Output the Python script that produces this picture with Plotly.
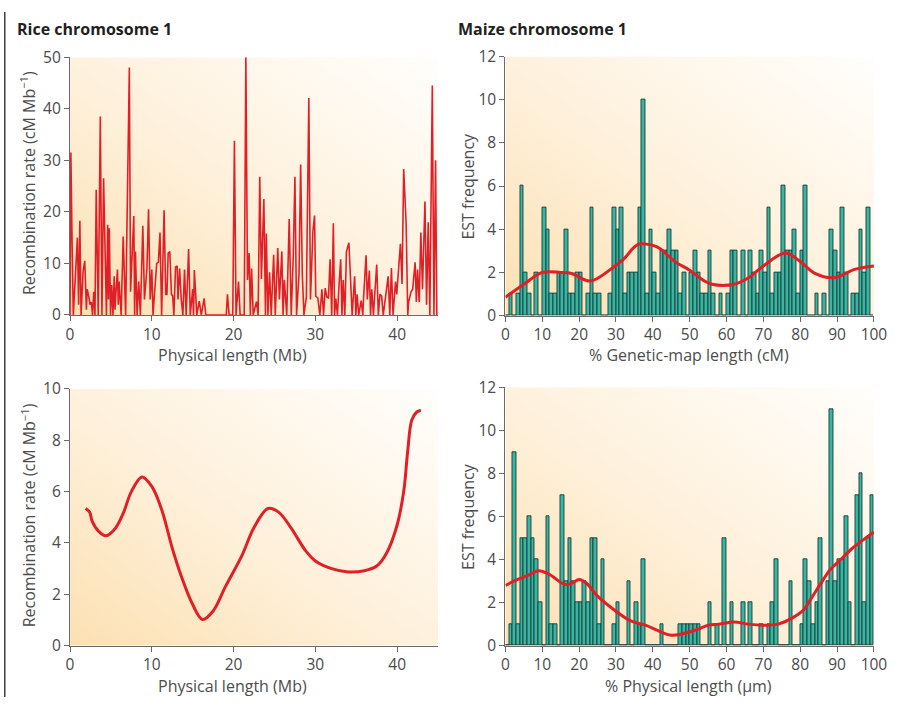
import base64
import plotly.graph_objects as go

# ---------------- DATA ----------------
# Rice chromosome 1: recombination rate along physical map (Mb, cM/Mb)
rice_pos_mb = [0, 0.1, 0.25, 0.4, 0.9, 1.05, 1.2, 1.35, 1.6, 1.8, 2.0, 2.1, 2.3, 2.45, 2.6, 2.75,
               2.9, 3.05, 3.2, 3.45, 3.7, 3.9, 4.1, 4.3, 4.45, 4.6, 4.7, 4.8, 4.95, 5.1, 5.25, 5.4,
               5.5, 5.6, 5.8, 5.9, 6.0, 6.25, 6.5, 6.8, 7.25, 7.4, 7.6, 7.8, 7.9, 8.0, 8.2, 8.4,
               8.6, 8.9, 9.1, 9.4, 9.6, 9.8, 10.0, 10.15, 10.3, 10.6, 10.8, 11.0, 11.2, 11.5, 11.7,
               11.85, 12.0, 12.2, 12.4, 12.55, 12.7, 12.9, 13.1, 13.2, 13.4, 13.6, 13.8, 14.0, 14.2,
               14.5, 14.7, 15.0, 15.1, 15.2, 15.5, 15.8, 16.05, 16.4, 16.6, 19.1, 19.25, 19.45,
               19.9, 20.1, 20.3, 20.6, 20.8, 21.3, 21.5, 21.7, 21.9, 22.05, 22.2, 22.4, 22.8, 23.0,
               23.2, 23.4, 23.7, 23.9, 24.0, 24.2, 24.4, 24.6, 24.9, 25.1, 25.4, 25.6, 25.9, 26.05,
               26.2, 26.5, 26.8, 27.05, 27.3, 27.5, 27.7, 28.0, 28.2, 28.4, 28.6, 28.9, 29.2, 29.4,
               29.7, 29.9, 30.05, 30.3, 30.55, 30.8, 31.0, 31.2, 31.4, 31.6, 31.8, 32.0, 32.2,
               32.35, 32.5, 32.7, 32.9, 33.1, 33.25, 33.4, 33.6, 33.8, 34.1, 34.3, 34.5, 34.8,
               34.95, 35.1, 35.3, 35.6, 35.8, 35.9, 36.2, 36.35, 36.6, 36.75, 36.9, 37.1, 37.5,
               37.7, 37.9, 38.1, 38.3, 38.9, 39.1, 39.3, 39.5, 39.8, 39.95, 40.4, 40.6, 40.8, 41.1,
               41.3, 41.4, 41.7, 41.9, 42.2, 42.35, 42.5, 42.7, 42.9, 43.1, 43.4, 43.6, 43.8, 44.0,
               44.3, 44.5, 44.7, 44.85]
rice_rate = [0, 31.5, 14, 0, 15, 2, 18.3, 0, 8.5, 10.5, 1, 5, 3.5, 2, 2.5, 0,
             4.5, 0, 24.3, 0, 38.5, 0, 26.5, 11.5, 0, 17.5, 3, 16.8, 0, 5.8, 0, 7.5,
             1, 4, 8.8, 2, 6.5, 0, 15.2, 0, 48, 4.5, 11.5, 19.2, 0, 12.3, 0, 6.5,
             0, 17.3, 3, 9, 20.5, 3, 8.8, 0, 3.5, 10, 10.2, 16, 0, 20.3, 4,
             4, 12, 12.3, 4, 3.7, 0, 9.3, 9.5, 3, 9, 3, 0, 8.8, 0,
             12.8, 0, 5, 0, 8.7, 0, 2.7, 0, 3.2, 0, 0, 4, 0,
             0, 33.8, 0, 6.5, 0, 0, 50, 6.8, 12, 0, 9, 0, 2.6, 0,
             26.8, 7, 22.5, 0, 15.8, 0, 8.3, 0, 11.7, 0, 13, 3, 12.3, 0,
             6.8, 0, 18.6, 0, 11.7, 26.8, 0, 8, 29.2, 8, 0, 3.5, 42.1, 3,
             16.3, 19.3, 3.6, 3.3, 0, 5, 0, 5.2, 3.5, 3.3, 10.8, 0, 17.8,
             0, 3.2, 0, 6, 10.8, 0, 6.8, 0, 12.3, 14, 5, 0, 7.5,
             0, 4, 0, 2.8, 0, 3.5, 11.6, 3, 8.6, 0, 5, 0, 9.8,
             0, 4, 3.7, 0, 7.5, 0, 9.1, 0, 6.5, 4, 13.8, 6, 28.3, 17.8,
             0, 2.5, 4.5, 5, 10.2, 2.5, 8.8, 2.5, 16, 5, 22, 2, 18, 0,
             44.5, 0, 30, 0]

# Rice chromosome 1: smoothed recombination rate
rice_smooth_mb = [1.9, 2.4, 2.7, 3.5, 4.4, 5.5, 6.5, 7.5, 8.8, 10.0, 11.2, 12.5, 13.5, 15.0, 16.2,
                  17.5, 19.0, 21.0, 22.5, 24.2, 25.5, 27.0, 28.8, 30.0, 32.0, 34.0, 36.0, 37.5,
                  38.7, 40.0, 40.8, 41.3, 41.8, 42.4, 42.9]
rice_smooth_rate = [5.34, 5.2, 4.85, 4.45, 4.28, 4.55, 5.15, 6.0, 6.57, 6.2, 5.3, 3.8, 2.8, 1.6, 1.02,
                    1.35, 2.3, 3.5, 4.6, 5.34, 5.2, 4.6, 3.7, 3.3, 3.0, 2.87, 2.92, 3.1,
                    3.6, 4.7, 6.0, 7.6, 8.8, 9.1, 9.17]

# Maize chromosome 1: EST frequency per 1% bin
bin_start_pct = list(range(0, 100))
est_genetic = [0, 1, 0, 1, 6, 2, 1, 0, 2, 0,
               5, 4, 1, 1, 2, 2, 4, 1, 1, 2,
               2, 0, 1, 5, 1, 1, 0, 0, 1, 5,
               4, 5, 1, 2, 2, 2, 5, 10, 1, 4,
               2, 1, 3, 3, 4, 3, 3, 1, 2, 0,
               2, 3, 2, 1, 1, 3, 1, 0, 1, 0,
               1, 3, 3, 0, 3, 0, 3, 2, 1, 3,
               2, 5, 1, 2, 2, 6, 3, 3, 4, 1,
               3, 6, 0, 0, 1, 0, 1, 0, 4, 3,
               2, 5, 2, 0, 1, 1, 4, 2, 5, 0]
est_physical = [0, 1, 9, 1, 5, 5, 6, 5, 4, 2,
                0, 6, 1, 1, 0, 7, 3, 5, 3, 2,
                2, 3, 2, 5, 5, 1, 4, 0, 0, 1,
                2, 0, 0, 3, 0, 2, 1, 4, 0, 0,
                0, 0, 1, 0, 0, 0, 0, 1, 1, 1,
                1, 1, 1, 0, 0, 2, 0, 1, 0, 5,
                0, 2, 0, 0, 2, 0, 2, 0, 0, 1,
                0, 1, 2, 4, 0, 0, 0, 3, 0, 0,
                1, 4, 3, 1, 2, 5, 0, 3, 11, 3,
                4, 4, 6, 2, 0, 7, 8, 2, 5, 7]

# Smoothed EST density curves
genetic_smooth_pct = [0, 5, 10, 15, 18, 23, 29, 32, 36, 40, 42, 46, 50, 54, 56, 62, 66, 70, 76,
                      80, 84, 89, 95, 100]
genetic_smooth_val = [0.85, 1.45, 2.0, 2.0, 1.95, 1.6, 2.2, 2.6, 3.3, 3.25, 3.1, 2.5, 2.1, 1.6,
                      1.45, 1.45, 1.75, 2.3, 2.9, 2.5, 1.95, 1.75, 2.15, 2.3]
physical_smooth_pct = [0, 3, 6, 9, 12, 16, 18, 20, 22, 25, 30, 34, 38, 42, 45, 48, 52, 55, 58,
                       62, 66, 70, 74, 78, 81, 83, 86, 88, 91, 94, 97, 100]
physical_smooth_val = [2.8, 3.05, 3.25, 3.48, 3.3, 2.85, 2.9, 3.07, 2.9, 2.3, 1.6, 1.15, 0.95,
                       0.65, 0.48, 0.55, 0.75, 0.95, 1.0, 1.1, 1.0, 0.95, 1.0, 1.3, 1.68, 2.2,
                       3.0, 3.5, 4.0, 4.5, 4.9, 5.28]

# ---------------- STYLE ----------------
W, H = 909, 707
FONT = "Open Sans"
RED = "#E11F26"
TEAL = "#36B6A3"
TEAL_EDGE = "#1D3A35"
TICK_COL = "#4a4a4a"
AXIS_COL = "#6a6a6a"


def px_x(p):
    return p / W


def px_y(p):
    return 1 - p / H


svg = ("<svg xmlns='http://www.w3.org/2000/svg' width='200' height='200' viewBox='0 0 200 200' "
       "preserveAspectRatio='none'><defs><linearGradient id='g' x1='0' y1='1' x2='1' y2='0'>"
       "<stop offset='0' stop-color='#FCE0B2'/><stop offset='0.45' stop-color='#FEF0DA'/>"
       "<stop offset='1' stop-color='#FFFEFC'/></linearGradient></defs>"
       "<rect width='200' height='200' fill='url(#g)'/></svg>")
bg_uri = "data:image/svg+xml;base64," + base64.b64encode(svg.encode()).decode()

fig = go.Figure()

# Panel A: rice spikes
fig.add_trace(go.Scatter(x=rice_pos_mb, y=rice_rate, mode="lines",
                         line=dict(color=RED, width=1.6), xaxis="x", yaxis="y",
                         hoverinfo="skip", showlegend=False))
# Panel B: maize genetic map
fig.add_trace(go.Bar(x=bin_start_pct, y=est_genetic, width=1, offset=0,
                     marker=dict(color=TEAL, line=dict(color=TEAL_EDGE, width=0.9)),
                     xaxis="x2", yaxis="y2", showlegend=False))
fig.add_trace(go.Scatter(x=genetic_smooth_pct, y=genetic_smooth_val, mode="lines",
                         line=dict(color=RED, width=3, shape="spline", smoothing=1.0),
                         xaxis="x2", yaxis="y2", showlegend=False))
# Panel C: rice smooth
fig.add_trace(go.Scatter(x=rice_smooth_mb, y=rice_smooth_rate, mode="lines",
                         line=dict(color=RED, width=3, shape="spline", smoothing=1.0),
                         xaxis="x3", yaxis="y3", showlegend=False))
# Panel D: maize physical map
fig.add_trace(go.Bar(x=bin_start_pct, y=est_physical, width=1, offset=0,
                     marker=dict(color=TEAL, line=dict(color=TEAL_EDGE, width=0.9)),
                     xaxis="x4", yaxis="y4", showlegend=False))
fig.add_trace(go.Scatter(x=physical_smooth_pct, y=physical_smooth_val, mode="lines",
                         line=dict(color=RED, width=3, shape="spline", smoothing=1.0),
                         xaxis="x4", yaxis="y4", showlegend=False))


def axis(domain, rng, dtick, anchor):
    return dict(domain=domain, range=rng, dtick=dtick, tick0=0, anchor=anchor,
                showgrid=False, zeroline=False, showline=True, linecolor=AXIS_COL,
                linewidth=1.3, ticks="outside", ticklen=5, tickwidth=1.3,
                tickcolor=AXIS_COL, tickfont=dict(family=FONT, size=15.5, color=TICK_COL),
                fixedrange=True)


panels = {
    "": dict(xd=[67.3, 442.3], yd=[46.7, 312.7], xr=[0, 45], yr=[0, 50], xt=10, yt=10),
    "2": dict(xd=[511, 886.5], yd=[46, 313.3], xr=[0, 100], yr=[0, 12], xt=10, yt=2),
    "3": dict(xd=[67.3, 442.3], yd=[389, 654], xr=[0, 45], yr=[0, 10], xt=10, yt=2),
    "4": dict(xd=[511, 886.5], yd=[387.3, 654], xr=[0, 100], yr=[0, 12], xt=10, yt=2),
}

layout_axes = {}
images = []
for k, p in panels.items():
    xd = [px_x(p["xd"][0]), px_x(p["xd"][1])]
    yd = [px_y(p["yd"][1]), px_y(p["yd"][0])]
    layout_axes["xaxis" + k] = axis(xd, p["xr"], p["xt"], "y" + k)
    layout_axes["yaxis" + k] = axis(yd, p["yr"], p["yt"], "x" + k)
    images.append(dict(source=bg_uri, xref=("x" + k) + " domain", yref=("y" + k) + " domain",
                       x=0, y=1, sizex=1, sizey=1, sizing="stretch", xanchor="left",
                       yanchor="top", layer="below"))

TITLE_COL = "#231f20"
LABEL_COL = "#4d4d4d"
annotations = [
    dict(text="<b>Rice chromosome 1</b>", x=px_x(11), y=px_y(18), xanchor="left",
         yanchor="middle", font=dict(family=FONT, size=16, color=TITLE_COL)),
    dict(text="<b>Maize chromosome 1</b>", x=px_x(461), y=px_y(18), xanchor="left",
         yanchor="middle", font=dict(family=FONT, size=16, color=TITLE_COL)),
    dict(text="Recombination rate (cM Mb<sup>−1</sup>)", x=px_x(25), y=px_y(177),
         textangle=-90, font=dict(family=FONT, size=16, color=LABEL_COL)),
    dict(text="Recombination rate (cM Mb<sup>−1</sup>)", x=px_x(25), y=px_y(520),
         textangle=-90, font=dict(family=FONT, size=16, color=LABEL_COL)),
    dict(text="EST frequency", x=px_x(473), y=px_y(180), textangle=-90,
         font=dict(family=FONT, size=16, color=LABEL_COL)),
    dict(text="EST frequency", x=px_x(473), y=px_y(521), textangle=-90,
         font=dict(family=FONT, size=16, color=LABEL_COL)),
    dict(text="Physical length (Mb)", x=px_x(233), y=px_y(354),
         font=dict(family=FONT, size=16, color=LABEL_COL)),
    dict(text="Physical length (Mb)", x=px_x(233), y=px_y(695.5),
         font=dict(family=FONT, size=16, color=LABEL_COL)),
    dict(text="% Genetic-map length (cM)", x=px_x(698), y=px_y(354),
         font=dict(family=FONT, size=16, color=LABEL_COL)),
    dict(text="% Physical length (μm)", x=px_x(698), y=px_y(695.5),
         font=dict(family=FONT, size=16, color=LABEL_COL)),
]
for a in annotations:
    a.update(xref="paper", yref="paper", showarrow=False)
    a.setdefault("xanchor", "center")
    a.setdefault("yanchor", "middle")

fig.update_layout(
    autosize=True,
    margin=dict(l=0, r=0, t=0, b=0, pad=0),
    paper_bgcolor="white",
    plot_bgcolor="rgba(0,0,0,0)",
    bargap=0,
    showlegend=False,
    images=images,
    annotations=annotations,
    shapes=[dict(type="line", xref="paper", yref="paper", x0=0.8 / W, x1=0.8 / W, y0=0, y1=1,
                 line=dict(color="#333333", width=1.4))],
    **layout_axes,
)

# Graph div pinned to the viewport so the figure fills the browser window exactly.
fig.write_html("out.html",
               default_width="100vw; position:absolute; left:0; top:0; margin:0",
               default_height="100vh",
               config={"displayModeBar": False, "responsive": True})
